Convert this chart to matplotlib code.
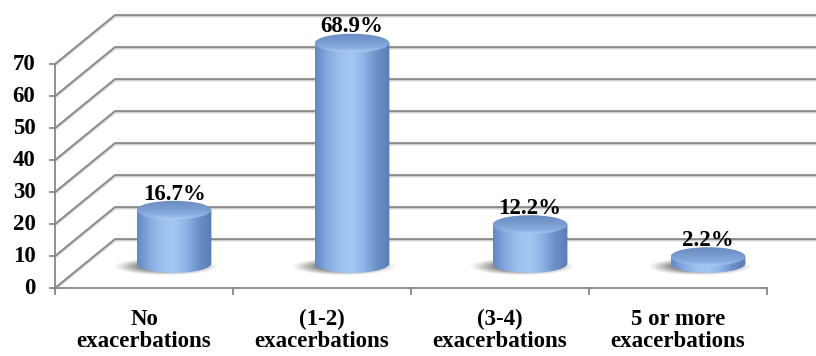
import matplotlib.pyplot as plt
import numpy as np
from matplotlib.path import Path
from matplotlib.patches import PathPatch, Ellipse
from matplotlib.colors import LinearSegmentedColormap

categories = ["No\nexacerbations", "(1-2)\nexacerbations", "(3-4)\nexacerbations", "5 or more\nexacerbations"]
values = [16.7, 68.9, 12.2, 2.2]
labels = ["16.7%", "68.9%", "12.2%", "2.2%"]
yticks = [0, 10, 20, 30, 40, 50, 60, 70]

plt.rcParams['font.family'] = ['Liberation Serif', 'DejaVu Serif']

# depth of the 3d box, in data units (x: categories, y: values)
DX, DY = 0.337, 15.3
W = 0.21   # cylinder half width
EH = 2.9   # half height of the cylinder ellipses
FS = 16.5

fig = plt.figure(figsize=(8.16, 3.56), dpi=100)
ax = fig.add_axes([0, 0, 1, 1])
ax.set_xlim(-0.809, 3.775)
ax.set_ylim(-21.25, 90)
ax.axis('off')

grid_c = '#878787'
shade_c = '#cfcfcf'
x0 = -0.5
xend = 4.0

# back wall + side wall grid
for v in yticks:
    ax.plot([x0, x0 + DX, xend], [v - 0.35, v + DY - 0.35, v + DY - 0.35], color=shade_c, lw=1.8, zorder=1)
    ax.plot([x0, x0 + DX, xend], [v, v + DY, v + DY], color=grid_c, lw=1.3, zorder=2)

# front value axis with ticks
ax.plot([x0, x0], [0, yticks[-1]], color=grid_c, lw=1.3, zorder=2)
for v in yticks:
    ax.plot([x0 - 0.03, x0], [v, v], color=grid_c, lw=1.3, zorder=2)
    ax.text(-0.61, v, str(v), ha='right', va='center', fontsize=FS, fontweight='bold')

# floor front edge with category ticks
ax.plot([x0, x0 + len(categories)], [0, 0], color=grid_c, lw=1.3, zorder=2)
for i in range(len(categories) + 1):
    ax.plot([x0 + i, x0 + i], [0, -1.9], color=grid_c, lw=1.3, zorder=2)
for i, c in enumerate(categories):
    ax.text(i, -6.6, c, ha='center', va='top', fontsize=FS, fontweight='bold', linespacing=1.05)

body_cmap = LinearSegmentedColormap.from_list(
    'body', ['#6388c0', '#85abe0', '#9cc1f0', '#a2c7f4', '#8cb2e5', '#6a8fc6', '#5a7db4'])
top_cmap = LinearSegmentedColormap.from_list(
    'top', ['#a9c9f0', '#86abdd', '#7b9fd3', '#7194c9', '#6a8cc0'])

t = np.linspace(np.pi, 2 * np.pi, 60)
for i, v in enumerate(values):
    xc = i + DX / 2
    base = DY / 2
    top = base + v

    # soft floor shadow, thrown a little to the left
    gx = np.linspace(-1, 1, 120)
    gy = np.linspace(-1, 1, 60)
    GX, GY = np.meshgrid(gx, gy)
    r2 = (GX / 0.72) ** 2 + (GY / 0.6) ** 2
    alpha = np.clip(1.25 - r2, 0, 1) ** 1.5 * 0.85
    img = np.zeros((60, 120, 4))
    img[..., :3] = 0.4
    img[..., 3] = alpha
    ax.imshow(img, extent=[xc - 0.42, xc + 0.33, base - 5.0, base + 3.4],
              aspect='auto', zorder=3, interpolation='bilinear')

    # cylinder body: sides plus front half of the base ellipse
    verts = [(xc - W, top), (xc - W, base)]
    verts += list(zip(xc + W * np.cos(t), base + EH * np.sin(t)))
    verts += [(xc + W, top), (xc - W, top)]
    body = PathPatch(Path(verts), facecolor='none', edgecolor='none')
    ax.add_patch(body)
    grad = np.linspace(0, 1, 200).reshape(1, -1)
    im = ax.imshow(grad, cmap=body_cmap, extent=[xc - W, xc + W, base - EH, top],
                   aspect='auto', zorder=4, interpolation='bilinear')
    im.set_clip_path(body)

    # top face, shaded from the front rim to the back
    lid = Ellipse((xc, top), 2 * W, 2 * EH, facecolor='none', edgecolor='none')
    ax.add_patch(lid)
    vgrad = np.linspace(0, 1, 100).reshape(-1, 1)
    im2 = ax.imshow(vgrad, cmap=top_cmap, extent=[xc - W, xc + W, top - EH, top + EH],
                    aspect='auto', origin='lower', zorder=5, interpolation='bilinear')
    im2.set_clip_path(lid)

    ax.text(xc, top + EH + 0.4, labels[i], ha='center', va='baseline',
            fontsize=FS, fontweight='bold', zorder=6)

fig.savefig('out.png', dpi=100)
